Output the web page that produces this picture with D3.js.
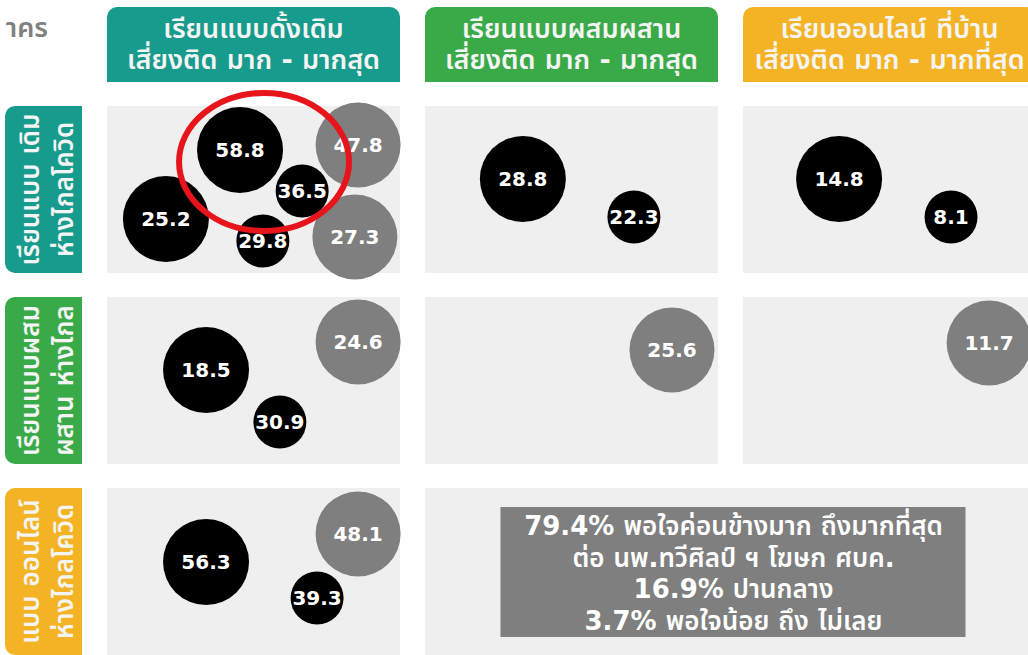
<!DOCTYPE html>
<html>
<head>
<meta charset="utf-8">
<script src="https://cdn.jsdelivr.net/npm/d3@7"></script>
<style>
  html, body { margin: 0; padding: 0; background: #ffffff; }
  svg { display: block; font-family: "DejaVu Sans", "Noto Sans Thai", "Noto Sans", sans-serif; }
</style>
</head>
<body>
<div id="chart"></div>
<script>
// column / row headers
const colLine1 = ["เรียนแบบดั้งเดิม", "เรียนแบบผสมผสาน", "เรียนออนไลน์ ที่บ้าน"];
const colLine2 = ["เสี่ยงติด มาก - มากสุด", "เสี่ยงติด มาก - มากสุด", "เสี่ยงติด มาก - มากที่สุด"];
const rowLine1 = ["เรียนแบบ เดิม", "เรียนแบบผสม", "แบบ ออนไลน์"];
const rowLine2 = ["ห่างไกลโควิด", "ผสาน ห่างไกล", "ห่างไกลโควิด"];
const groupColors = ["#179b8c", "#3aaa49", "#f3b324"];

// bubbles: panel row, panel col, kind, value
const bubbleRow = [0, 0, 0, 0, 0, 0, 0, 0, 0, 0, 1, 1, 1, 1, 1, 2, 2, 2];
const bubbleCol = [0, 0, 0, 0, 0, 0, 1, 1, 2, 2, 0, 0, 0, 1, 2, 0, 0, 0];
const bubbleKind = ["major", "alt", "minor", "major", "minor", "alt",
  "major", "minor", "major", "minor",
  "major", "alt", "minor", "alt", "alt",
  "major", "alt", "minor"];
const bubbleValue = [58.8, 47.8, 36.5, 25.2, 29.8, 27.3,
  28.8, 22.3, 14.8, 8.1,
  18.5, 24.6, 30.9, 25.6, 11.7,
  56.3, 48.1, 39.3];
// layout slot of each bubble inside its panel (percent of panel width / height)
const slotX = [45.4, 85.7, 66.6, 20.1, 53.2, 84.6, 33.4, 71.3, 32.8, 71.0, 33.8, 85.7, 59.0, 84.3, 84.0, 33.8, 85.7, 71.7];
const slotY = [26.3, 23.4, 50.9, 67.7, 80.8, 78.4, 43.7, 66.5, 43.7, 66.5, 43.7, 26.9, 74.9, 31.7, 27.5, 44.3, 27.5, 65.9];

const noteLines = [
  "79.4% พอใจค่อนข้างมาก ถึงมากที่สุด",
  "ต่อ นพ.ทวีศิลป์ ฯ โฆษก ศบค.",
  "16.9% ปานกลาง",
  "3.7% พอใจน้อย ถึง ไม่เลย"
];

const width = 1028, height = 655;
const svg = d3.select("#chart").append("svg")
  .attr("width", width).attr("height", height);

const idx = [0, 1, 2];
const x = d3.scaleBand().domain(idx).range([107, 1036]).paddingInner(25 / 318).paddingOuter(0);
const y = d3.scaleBand().domain(idx).range([106, 655]).paddingInner(24 / 191).paddingOuter(0);
const radius = d3.scaleOrdinal().domain(["major", "minor", "alt"]).range([43, 26.5, 42.5]);
const fill = d3.scaleOrdinal().domain(["major", "minor", "alt"]).range(["#000000", "#000000", "#7f7f7f"]);

const thaiSize = 27;

// cut-off title fragment at top left
svg.append("text")
  .attr("x", 48).attr("y", 37)
  .attr("text-anchor", "end")
  .attr("fill", "#808080")
  .attr("font-size", thaiSize)
  .attr("font-weight", 600)
  .text("าคร");

// rounded-on-one-side box
function tab(x0, y0, w, h, r, side) {
  const p = d3.path();
  if (side === "top") {
    p.moveTo(x0, y0 + h);
    p.lineTo(x0, y0 + r);
    p.arcTo(x0, y0, x0 + r, y0, r);
    p.lineTo(x0 + w - r, y0);
    p.arcTo(x0 + w, y0, x0 + w, y0 + r, r);
    p.lineTo(x0 + w, y0 + h);
  } else {
    p.moveTo(x0 + w, y0);
    p.lineTo(x0 + r, y0);
    p.arcTo(x0, y0, x0, y0 + r, r);
    p.lineTo(x0, y0 + h - r);
    p.arcTo(x0, y0 + h, x0 + r, y0 + h, r);
    p.lineTo(x0 + w, y0 + h);
  }
  p.closePath();
  return p.toString();
}

// column headers
const colHead = svg.selectAll(".colHead").data(idx).enter().append("g").attr("class", "colHead");
colHead.append("path")
  .attr("d", (d) => tab(x(d), 7, x.bandwidth(), 75, 10, "top"))
  .attr("fill", (d) => groupColors[d]);
colHead.append("text")
  .attr("x", (d) => x(d) + x.bandwidth() / 2).attr("y", 38)
  .attr("text-anchor", "middle").attr("fill", "#f4f4f4")
  .attr("font-size", thaiSize).attr("font-weight", 600)
  .text((d) => colLine1[d]);
colHead.append("text")
  .attr("x", (d) => x(d) + x.bandwidth() / 2).attr("y", 69)
  .attr("text-anchor", "middle").attr("fill", "#f4f4f4")
  .attr("font-size", thaiSize).attr("font-weight", 600)
  .text((d) => colLine2[d]);

// row headers, rotated
const rowHead = svg.selectAll(".rowHead").data(idx).enter().append("g").attr("class", "rowHead");
rowHead.append("path")
  .attr("d", (d) => tab(5, y(d), 77, y.bandwidth(), 10, "left"))
  .attr("fill", (d) => groupColors[d]);
const rowText = rowHead.append("g")
  .attr("transform", (d) => `translate(43.5,${y(d) + y.bandwidth() / 2}) rotate(-90)`);
rowText.append("text")
  .attr("y", -5).attr("text-anchor", "middle").attr("fill", "#f4f4f4")
  .attr("font-size", 26).attr("font-weight", 600)
  .text((d) => rowLine1[d]);
rowText.append("text")
  .attr("y", 29).attr("text-anchor", "middle").attr("fill", "#f4f4f4")
  .attr("font-size", 26).attr("font-weight", 600)
  .text((d) => rowLine2[d]);

// panels (bottom row: columns 2 and 3 merged into one note panel)
const panels = [];
idx.forEach((r) => idx.forEach((c) => {
  if (r === 2 && c === 2) return;
  const w = (r === 2 && c === 1) ? x(2) + x.bandwidth() - x(1) : x.bandwidth();
  panels.push({ r, c, w });
}));
svg.selectAll(".panel").data(panels).enter().append("rect")
  .attr("class", "panel")
  .attr("x", (d) => x(d.c)).attr("y", (d) => y(d.r))
  .attr("width", (d) => d.w).attr("height", y.bandwidth())
  .attr("fill", "#efefef");

// bubbles
const px = d3.scaleLinear().domain([0, 100]).range([0, x.bandwidth()]);
const py = d3.scaleLinear().domain([0, 100]).range([0, y.bandwidth()]);
const bubbles = bubbleValue.map((v, i) => ({
  v, kind: bubbleKind[i],
  cx: x(bubbleCol[i]) + px(slotX[i]),
  cy: y(bubbleRow[i]) + py(slotY[i])
}));
const bub = svg.selectAll(".bubble").data(bubbles).enter().append("g").attr("class", "bubble");
bub.append("circle")
  .attr("cx", (d) => d.cx).attr("cy", (d) => d.cy)
  .attr("r", (d) => radius(d.kind))
  .attr("fill", (d) => fill(d.kind));
bub.append("text")
  .attr("x", (d) => d.cx).attr("y", (d) => d.cy + 7.3)
  .attr("text-anchor", "middle").attr("fill", "#ffffff")
  .attr("font-size", 20).attr("font-weight", 700)
  .text((d) => d.v.toFixed(1));

// red highlight ellipse round the first panel's top bubbles
svg.append("ellipse")
  .attr("cx", x(0) + px(53.6)).attr("cy", y(0) + py(33.5))
  .attr("rx", 85).attr("ry", 69)
  .attr("fill", "none").attr("stroke", "#e8141c").attr("stroke-width", 6);

// note box
const nx = x(1) + (x(2) + x.bandwidth() - x(1)) / 2;
const ny = y(2) + 19;
svg.append("rect")
  .attr("x", nx - 230).attr("y", ny)
  .attr("width", 465).attr("height", 130)
  .attr("fill", "#7f7f7f");
svg.selectAll(".note").data(noteLines).enter().append("text")
  .attr("class", "note")
  .attr("x", nx + 3).attr("y", (d, i) => ny + 28 + i * 31.5)
  .attr("text-anchor", "middle").attr("fill", "#ffffff")
  .attr("font-size", 26).attr("font-weight", 600)
  .text((d) => d);
</script>
</body>
</html>
